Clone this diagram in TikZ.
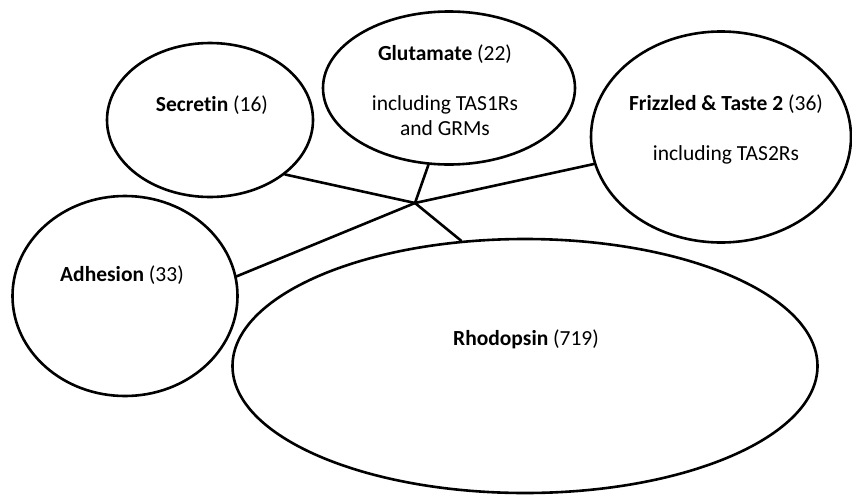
\documentclass[tikz,border=0pt]{standalone}
\usepackage{fontspec}
\setmainfont{Carlito}[Ligatures=NoCommon]
\usetikzlibrary{shapes.geometric}
\begin{document}
\begin{tikzpicture}[x=1pt,y=-1pt,
  fam/.style={draw=black, line width=2.6pt, ellipse, inner sep=0pt, fill=white},
  lbl/.style={font=\fontsize{21.5}{25}\selectfont, align=center, inner sep=0pt},
  link/.style={draw=black, line width=2.6pt, line cap=round}]
\useasboundingbox (0,0) rectangle (852,496);
\fill[white] (0,0) rectangle (852,496);
\node[fam, minimum width=206pt, minimum height=154pt] (sec) at (210,120) {};
\node[fam, minimum width=252pt, minimum height=153pt] (glu) at (449,88) {};
\node[fam, minimum width=260pt, minimum height=211pt] (fri) at (721,137) {};
\node[fam, minimum width=225pt, minimum height=200pt] (adh) at (125,296) {};
\node[fam, minimum width=585pt, minimum height=254pt] (rho) at (525,366) {};
\coordinate (hub) at (415,203);
\draw[link] (hub) -- (sec.-36.5);
\draw[link] (hub) -- (glu.-105);
\draw[link] (hub) -- (fri.-168.6);
\draw[link] (hub) -- (adh.10.6);
\draw[link] (hub) -- (rho.117.8);
\node[lbl] (tsec) at (212,105) {\textbf{Secretin} (16)};
\node[lbl] (tglu) at (445,54) {\textbf{Glutamate} (22)};
\node[lbl] (sglu) at (445,116) {including TAS1Rs\\and GRMs};
\node[lbl] (tfri) at (726,104) {\textbf{Frizzled \& Taste 2} (36)};
\node[lbl] (sfri) at (726,155) {including TAS2Rs};
\node[lbl] (tadh) at (122,275) {\textbf{Adhesion} (33)};
\node[lbl] (trho) at (526,339) {\textbf{Rhodopsin} (719)};
\end{tikzpicture}
\end{document}
